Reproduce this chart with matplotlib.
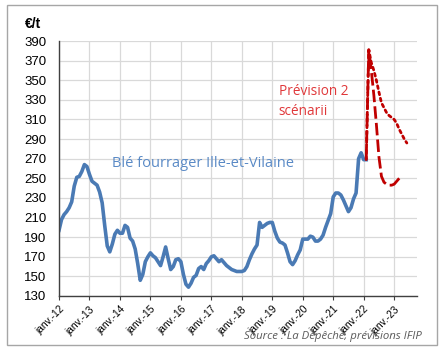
import numpy as np
import matplotlib
matplotlib.use("Agg")
import matplotlib.pyplot as plt
from matplotlib.patches import Rectangle

# Prix mensuel du blé fourrager (€/t), de janv. 2012 à févr. 2022
ble_prix = [197, 208, 213, 216, 220, 226, 242, 251, 252, 257, 264, 262,
            254, 247, 245, 243, 236, 225, 202, 181, 175, 183, 193, 197,
            194, 194, 202, 200, 189, 186, 178, 163, 146, 152, 165, 170,
            174, 171, 169, 165, 161, 170, 180, 168, 157, 160, 167, 168,
            165, 152, 142, 139, 143, 149, 151, 158, 160, 157, 163, 166,
            170, 171, 168, 165, 167, 164, 161, 159, 157, 156, 155, 155,
            155, 156, 160, 167, 173, 178, 182, 205, 200, 202, 204, 205,
            205, 196, 189, 185, 184, 182, 174, 165, 162, 166, 172, 177,
            188, 188, 188, 191, 190, 186, 186, 188, 192, 200, 207, 214,
            231, 235, 235, 233, 228, 222, 216, 220, 229, 235, 270, 276,
            269, 269]
ble_mois = np.arange(len(ble_prix))

# Prévisions IFIP, à partir de févr. 2022 (mois 121)
prev_haute = [269, 381, 368, 360, 350, 338, 327, 322, 317, 314, 312, 310,
              306, 300, 295, 290, 286]
prev_basse = [269, 381, 360, 335, 305, 272, 252, 246, 244, 243, 243, 244,
              247, 250]
prev_debut = 121

annees = ["janv.-%02d" % a for a in range(12, 24)]
yticks = list(range(130, 391, 20))

blue = "#4a7ab4"
red = "#c00000"

fig = plt.figure(figsize=(4.45, 3.55), dpi=100)
fig.patches.append(Rectangle((7 / 445, 1 - 345 / 355), 430 / 445, 340 / 355,
                             transform=fig.transFigure, fill=False,
                             edgecolor="#a6a6a6", linewidth=1))
ax = fig.add_axes([59 / 445, 1 - 296 / 355, 358 / 445, 255 / 355])

ax.plot(ble_mois, ble_prix, color=blue, linewidth=2.6, solid_joinstyle="round")
ax.plot(np.arange(len(prev_haute)) + prev_debut, prev_haute, color=red,
        linewidth=2, linestyle=(0, (1, 1.3)), dash_capstyle="round")
ax.plot(np.arange(len(prev_basse)) + prev_debut, prev_basse, color=red,
        linewidth=2, linestyle=(0, (4.5, 1.5)))

ax.set_xlim(0, 141)
ax.set_ylim(130, 390)
ax.set_yticks(yticks)
ax.set_xticks(np.arange(len(annees)) * 12)
ax.set_xticklabels(annees, rotation=45, ha="right", va="top",
                   rotation_mode="anchor", fontsize=7.3, family="Liberation Sans")
for lab in ax.get_yticklabels():
    lab.set_family("Liberation Sans")
    lab.set_fontsize(9.5)
ax.tick_params(axis="y", length=0, pad=9)
ax.tick_params(axis="x", length=3, pad=3, color="#404040")

ax.grid(True, color="#d9d9d9", linewidth=0.9)
ax.set_axisbelow(True)
for s in ["top", "right"]:
    ax.spines[s].set_visible(False)
for s in ["left", "bottom"]:
    ax.spines[s].set_color("#404040")
    ax.spines[s].set_linewidth(1)

ax.text(21, 265, "Blé fourrager Ille-et-Vilaine", color="#5a8ac6",
        fontsize=10.5, family="Open Sans", va="center")
ax.text(86.5, 339, "Prévision 2", color="#e0383a", fontsize=9.8,
        family="Open Sans", va="center")
ax.text(86.5, 318, "scénarii", color="#e0383a", fontsize=9.8,
        family="Open Sans", va="center")

fig.text(25 / 445, 1 - 24 / 355, "€/t", fontsize=10, fontweight="bold",
         family="Liberation Sans", va="center")
fig.text(422 / 445, 1 - 336 / 355, "Source : La Dépêche, prévisions IFIP",
         fontsize=8.2, style="italic", family="Open Sans", color="#595959",
         ha="right", va="center")

fig.savefig("out.png", dpi=100)
